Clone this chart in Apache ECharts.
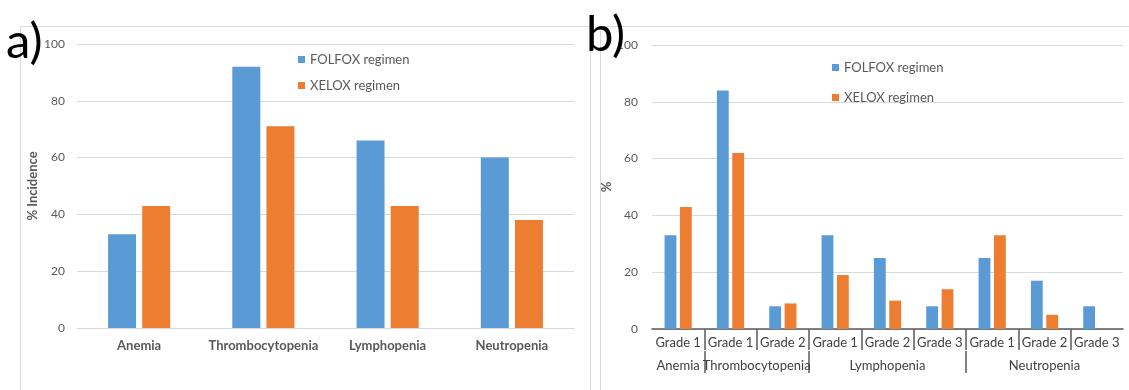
<!DOCTYPE html>
<html>
<head>
<meta charset="utf-8">
<script src="https://cdn.jsdelivr.net/npm/echarts@6/dist/echarts.min.js"></script>
<style>
  html, body { margin: 0; padding: 0; background: #ffffff; }
  #chart { width: 1129px; height: 390px; }
</style>
</head>
<body>
<div id="chart"></div>
<script>
// ---- Data: panel a) ----
const categoriesA = ['Anemia', 'Thrombocytopenia', 'Lymphopenia', 'Neutropenia'];
const folfoxA = [33, 92, 66, 60];
const xeloxA = [43, 71, 43, 38];

// ---- Data: panel b) ----
const gradeLabels = ['Grade 1', 'Grade 1', 'Grade 2', 'Grade 1', 'Grade 2', 'Grade 3', 'Grade 1', 'Grade 2', 'Grade 3'];
const groupNames = ['Anemia', 'Thrombocytopenia', 'Lymphopenia', 'Neutropenia'];
const groupSizes = [1, 2, 3, 3];
const folfoxB = [33, 84, 8, 33, 25, 8, 25, 17, 8];
const xeloxB = [43, 62, 9, 19, 10, 14, 33, 5, 0];

// ---- Axis ticks ----
const yMin = 0, yMax = 100, yStep = 20;
const seriesNames = ['FOLFOX regimen', 'XELOX regimen'];

// derived positions of group separators / labels (in category units)
const groupBounds = [];
const groupCenters = [];
let acc = 0;
groupSizes.forEach((s, i) => {
  groupCenters.push(acc + s / 2);
  acc += s;
  if (i < groupSizes.length - 1) groupBounds.push(acc);
});
const innerBounds = [];
for (let i = 1; i < gradeLabels.length; i++) innerBounds.push(i);

const BLUE = '#5B9BD5', ORANGE = '#ED7D31';
const GRID = '#D9D9D9', TXT = '#595959', DARK = '#404040';
const FONT = 'Lato';

const chart = echarts.init(document.getElementById('chart'), null, { renderer: 'canvas' });
const option = {
  animation: false,
  backgroundColor: '#ffffff',
  textStyle: { fontFamily: FONT },
  grid: [
    { left: 77, right: 555, top: 44, bottom: 62 },
    { left: 652, right: 6, top: 45, bottom: 61 }
  ],
  legend: [
    {
      orient: 'vertical', left: 293, top: 48, itemWidth: 7, itemHeight: 7, itemGap: 13,
      icon: 'rect', data: seriesNames,
      textStyle: { color: TXT, fontSize: 13, fontFamily: FONT }
    },
    {
      orient: 'vertical', left: 827, top: 56, itemWidth: 7, itemHeight: 7, itemGap: 17,
      icon: 'rect', data: seriesNames,
      textStyle: { color: TXT, fontSize: 13, fontFamily: FONT }
    }
  ],
  xAxis: [
    {
      gridIndex: 0, type: 'category', data: categoriesA,
      axisLine: { lineStyle: { color: GRID } },
      axisTick: { show: false },
      axisLabel: { color: TXT, fontWeight: 'bold', fontSize: 13, margin: 11, interval: 0 }
    },
    {
      gridIndex: 1, type: 'category', data: gradeLabels,
      axisLine: { lineStyle: { color: '#595959', width: 1.5 } },
      axisTick: { show: false },
      axisLabel: { color: DARK, fontSize: 13, margin: 7, interval: 0 }
    },
    {
      gridIndex: 1, type: 'value', min: 0, max: gradeLabels.length, position: 'bottom',
      axisLine: { show: false }, splitLine: { show: false },
      axisTick: { show: true, customValues: innerBounds, length: 21, lineStyle: { color: '#595959', width: 1.5 } },
      axisLabel: { show: false }
    },
    {
      gridIndex: 1, type: 'value', min: 0, max: gradeLabels.length, position: 'bottom', offset: 22,
      axisLine: { show: false }, splitLine: { show: false },
      axisTick: { show: true, customValues: groupBounds, length: 22, lineStyle: { color: '#595959', width: 1.5 } },
      axisLabel: {
        show: true, customValues: groupCenters, color: DARK, fontSize: 13, margin: 8,
        formatter: function (v) {
          const i = groupCenters.findIndex(c => Math.abs(c - v) < 1e-6);
          return i >= 0 ? groupNames[i] : '';
        }
      }
    }
  ],
  yAxis: [
    {
      gridIndex: 0, type: 'value', min: yMin, max: yMax, interval: yStep,
      axisLine: { show: false }, axisTick: { show: false },
      axisLabel: { color: TXT, fontSize: 12, margin: 12 },
      splitLine: { lineStyle: { color: GRID, width: 1 } },
      name: '% Incidence', nameLocation: 'middle', nameGap: 38,
      nameTextStyle: { color: TXT, fontWeight: 'bold', fontSize: 13 }
    },
    {
      gridIndex: 1, type: 'value', min: yMin, max: yMax, interval: yStep,
      axisLine: { show: false }, axisTick: { show: false },
      axisLabel: { color: TXT, fontSize: 12, margin: 14 },
      splitLine: { lineStyle: { color: GRID, width: 1 } },
      name: '%', nameLocation: 'middle', nameGap: 32,
      nameTextStyle: { color: TXT, fontWeight: 'bold', fontSize: 13 }
    }
  ],
  series: [
    { name: seriesNames[0], type: 'bar', xAxisIndex: 0, yAxisIndex: 0, data: folfoxA,
      itemStyle: { color: BLUE }, barGap: '22%', barCategoryGap: '50%' },
    { name: seriesNames[1], type: 'bar', xAxisIndex: 0, yAxisIndex: 0, data: xeloxA,
      itemStyle: { color: ORANGE }, barGap: '22%', barCategoryGap: '50%' },
    { name: seriesNames[0], type: 'bar', xAxisIndex: 1, yAxisIndex: 1, data: folfoxB,
      itemStyle: { color: BLUE }, barGap: '30%', barCategoryGap: '48%' },
    { name: seriesNames[1], type: 'bar', xAxisIndex: 1, yAxisIndex: 1, data: xeloxB,
      itemStyle: { color: ORANGE }, barGap: '30%', barCategoryGap: '48%' }
  ],
  graphic: [
    { type: 'rect', z: 0, silent: true, shape: { x: 20.5, y: 26.5, width: 570, height: 380 },
      style: { fill: 'none', stroke: GRID, lineWidth: 1 } },
    { type: 'rect', z: 0, silent: true, shape: { x: 600.5, y: 26.5, width: 540, height: 380 },
      style: { fill: 'none', stroke: GRID, lineWidth: 1 } },
    { type: 'text', z: 100, x: 6, y: 42,
      style: { text: 'a)', font: '49px Lato', fill: '#000000', verticalAlign: 'middle', align: 'left' } },
    { type: 'text', z: 100, x: 586, y: 35,
      style: { text: 'b)', font: '49px Lato', fill: '#000000', verticalAlign: 'middle', align: 'left' } }
  ]
};
chart.setOption(option);
</script>
</body>
</html>
